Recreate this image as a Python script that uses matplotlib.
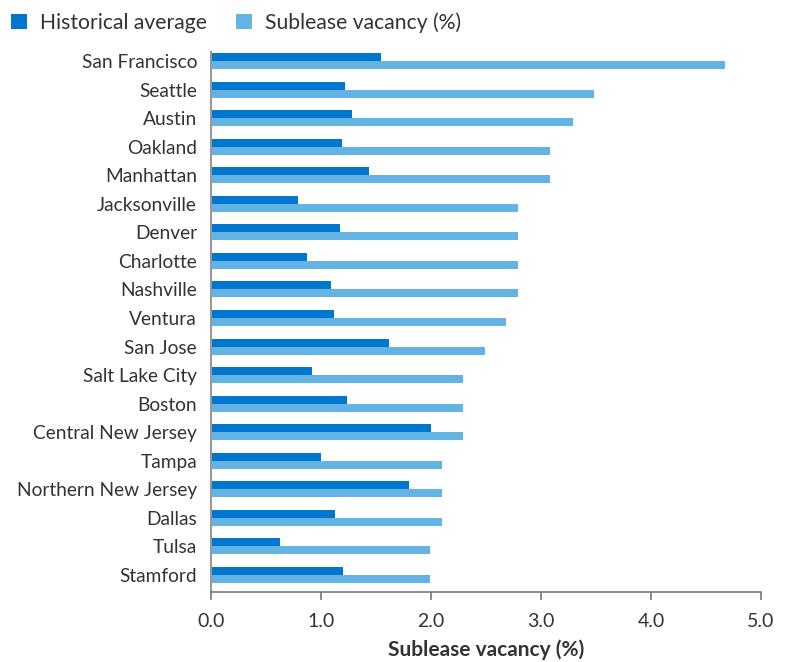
import matplotlib
matplotlib.use('Agg')
import matplotlib.pyplot as plt
import numpy as np

cities = ["San Francisco", "Seattle", "Austin", "Oakland", "Manhattan", "Jacksonville",
          "Denver", "Charlotte", "Nashville", "Ventura", "San Jose", "Salt Lake City",
          "Boston", "Central New Jersey", "Tampa", "Northern New Jersey", "Dallas",
          "Tulsa", "Stamford"]
historical = [1.55, 1.22, 1.28, 1.19, 1.44, 0.79, 1.17, 0.87, 1.09, 1.12, 1.62, 0.92,
              1.24, 2.0, 1.0, 1.8, 1.13, 0.63, 1.2]
sublease = [4.67, 3.48, 3.29, 3.08, 3.08, 2.79, 2.79, 2.79, 2.79, 2.68, 2.49, 2.29,
            2.29, 2.29, 2.1, 2.1, 2.1, 1.99, 1.99]
xticks = [0.0, 1.0, 2.0, 3.0, 4.0, 5.0]

dark = "#0077CF"
light = "#63B4E4"
txt = "#333333"
plt.rcParams['font.family'] = ['Lato', 'DejaVu Sans']

fig = plt.figure(figsize=(7.89, 6.62), dpi=100)
ax = fig.add_axes([0.2674, 0.1057, 0.697, 0.8158])

y = np.arange(len(cities))
h = 0.28
ax.barh(y - h / 2, historical, height=h, color=dark, label="Historical average")
ax.barh(y + h / 2, sublease, height=h, color=light, label="Sublease vacancy (%)")

ax.set_ylim(len(cities) - 0.4, -0.32)
ax.set_xlim(0, 5.0)
ax.set_yticks(y)
ax.set_yticklabels(cities, fontsize=13.8, color=txt)
ax.tick_params(axis='y', length=0, pad=10)
ax.set_xticks(xticks)
ax.set_xticklabels([f"{v:.1f}" for v in xticks], fontsize=14, color=txt)
ax.tick_params(axis='x', length=6, width=1.2, color="#777777", pad=9)
for s in ["top", "right"]:
    ax.spines[s].set_visible(False)
ax.spines["left"].set_color("#999999")
ax.spines["left"].set_linewidth(1.5)
ax.spines["bottom"].set_color("#777777")
ax.spines["bottom"].set_linewidth(1.2)

ax.set_xlabel("Sublease vacancy (%)", fontsize=15, fontweight='bold', color=txt, labelpad=7)

fig.legend(loc="upper left", bbox_to_anchor=(-0.01, 1.01), ncol=2, frameon=False,
           fontsize=15.2, handlelength=0.75, handleheight=0.75, handletextpad=0.6,
           columnspacing=1.4, labelcolor=txt)

fig.savefig("out.png", dpi=100)
